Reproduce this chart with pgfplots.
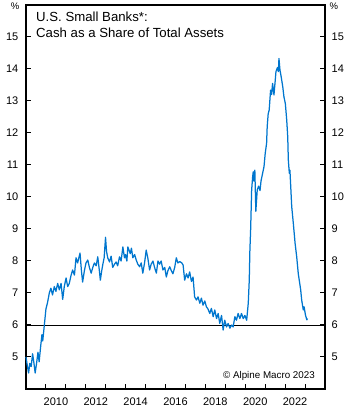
\documentclass[border=0pt]{standalone}
\usepackage{fontspec}
\setmainfont{Liberation Sans}
\usepackage{pgfplots}
\pgfplotsset{compat=1.18}
\definecolor{lineblue}{RGB}{0,118,206}
\pgfplotstableread{
x y
2009.00 5.00
2009.06 4.75
2009.13 4.50
2009.19 4.80
2009.26 4.70
2009.33 5.10
2009.39 4.85
2009.46 4.50
2009.53 4.80
2009.60 5.15
2009.66 4.85
2009.73 5.30
2009.80 5.70
2009.84 5.50
2009.92 6.00
2010.00 6.50
2010.08 6.70
2010.17 7.00
2010.25 7.15
2010.33 6.94
2010.42 7.20
2010.50 7.05
2010.59 7.30
2010.67 7.10
2010.76 7.30
2010.84 6.80
2010.92 7.20
2011.01 7.47
2011.09 7.20
2011.17 7.30
2011.26 7.55
2011.34 7.72
2011.43 7.56
2011.51 8.10
2011.59 7.94
2011.71 8.25
2011.78 7.70
2011.84 7.34
2011.93 7.70
2012.01 7.94
2012.10 8.03
2012.18 7.80
2012.27 7.62
2012.35 7.80
2012.43 7.94
2012.52 7.85
2012.60 8.13
2012.68 7.70
2012.73 7.40
2012.80 7.70
2012.85 7.88
2012.92 8.10
2012.99 8.74
2013.04 8.30
2013.10 8.10
2013.19 7.97
2013.27 8.15
2013.35 7.80
2013.44 7.90
2013.52 7.97
2013.60 7.85
2013.69 8.13
2013.77 8.00
2013.86 8.44
2013.94 8.10
2013.99 8.20
2014.06 8.00
2014.11 8.44
2014.23 8.23
2014.29 8.40
2014.36 8.10
2014.45 8.20
2014.53 8.03
2014.61 7.90
2014.70 7.82
2014.78 7.94
2014.86 7.62
2014.95 7.95
2015.03 8.34
2015.11 8.10
2015.20 7.72
2015.28 7.90
2015.37 8.00
2015.45 7.80
2015.54 7.62
2015.62 8.00
2015.70 7.90
2015.78 8.00
2015.87 7.72
2015.96 7.80
2016.04 7.50
2016.12 7.70
2016.21 7.82
2016.29 7.70
2016.37 7.60
2016.46 7.80
2016.54 8.10
2016.62 7.94
2016.71 7.98
2016.80 7.95
2016.88 7.88
2016.96 7.40
2017.05 7.60
2017.13 7.47
2017.21 7.66
2017.30 7.36
2017.38 7.50
2017.46 6.88
2017.55 6.78
2017.63 6.88
2017.72 6.68
2017.80 6.84
2017.88 6.62
2017.97 6.75
2018.05 6.57
2018.13 6.50
2018.22 6.36
2018.30 6.52
2018.39 6.26
2018.47 6.47
2018.56 6.20
2018.64 6.36
2018.72 6.05
2018.81 6.30
2018.89 5.84
2018.97 6.15
2019.06 5.94
2019.14 6.05
2019.23 5.90
2019.31 6.00
2019.39 5.94
2019.48 6.26
2019.56 6.15
2019.64 6.36
2019.73 6.20
2019.81 6.36
2019.90 6.20
2019.98 6.30
2020.07 6.15
2020.15 6.68
2020.20 7.40
2020.23 8.30
2020.27 9.00
2020.32 10.22
2020.37 10.63
2020.40 10.79
2020.43 10.50
2020.48 10.84
2020.53 9.55
2020.60 10.22
2020.67 10.34
2020.74 10.20
2020.79 10.50
2020.87 10.74
2020.94 10.95
2021.00 11.36
2021.07 11.68
2021.10 12.20
2021.15 12.60
2021.20 12.72
2021.27 13.34
2021.32 13.20
2021.37 13.55
2021.44 13.19
2021.49 13.55
2021.54 13.92
2021.61 14.04
2021.66 13.92
2021.69 14.33
2021.74 13.97
2021.79 13.80
2021.88 13.45
2021.94 13.13
2022.01 12.92
2022.08 12.40
2022.13 11.88
2022.16 11.16
2022.21 10.74
2022.24 10.84
2022.33 9.70
2022.41 9.18
2022.50 8.55
2022.58 8.13
2022.66 7.60
2022.78 7.10
2022.83 6.78
2022.91 6.47
2022.95 6.57
2023.02 6.31
2023.09 6.16
2023.12 6.20
}\cashdata
\begin{document}
\begin{tikzpicture}
\begin{axis}[
  at={(0pt,0pt)}, anchor=south west,
  width=299pt, height=384pt, scale only axis,
  xmin=2009, xmax=2024, ymin=4, ymax=16,
  axis line style={line width=1.1pt},
  tick align=inside,
  xtick pos=bottom, ytick pos=left,
  xtick={2010.5,2012.5,...,2022.5},
  xticklabels={2010,2012,2014,2016,2018,2020,2022},
  major x tick style={draw=none},
  minor xtick={2009,2010,...,2024},
  minor tick length=5pt,
  major tick length=5pt,
  every tick/.append style={black, line width=1pt},
  ytick={5,6,...,15},
  /pgf/number format/assume math mode=true,
  xticklabel style={font=\fontsize{11}{13}\selectfont, inner sep=0pt, anchor=north, yshift=-9pt},
  yticklabel style={font=\fontsize{11}{13}\selectfont, inner sep=0pt, anchor=east, xshift=-7.5pt},
  clip=false,
]
\addplot[black, line width=0.9pt] coordinates {(2009,6) (2024,6)};
\addplot[lineblue, line width=1.25pt, line join=round] table[x=x,y=y] {\cashdata};
\node[anchor=base west, inner sep=0pt, font=\fontsize{13.2}{16}\selectfont] at ([xshift=10pt,yshift=-16.5pt]rel axis cs:0,1) {U.S. Small Banks*:};
\node[anchor=base west, inner sep=0pt, font=\fontsize{13.2}{16}\selectfont] at ([xshift=10pt,yshift=-32.5pt]rel axis cs:0,1) {Cash as a Share of Total Assets};
\node[anchor=base east, inner sep=0pt, font=\fontsize{9.8}{12}\selectfont] at ([xshift=-10pt,yshift=10pt]rel axis cs:1,0) {\textcopyright{} Alpine Macro 2023};
\node[anchor=east, inner sep=0pt, font=\fontsize{9.5}{11}\selectfont] at ([xshift=-6.5pt,yshift=-1.5pt]rel axis cs:0,1) {\%};
\node[anchor=west, inner sep=0pt, font=\fontsize{9.5}{11}\selectfont] at ([xshift=4.3pt,yshift=-1.5pt]rel axis cs:1,1) {\%};
\end{axis}
\begin{axis}[
  at={(0pt,0pt)}, anchor=south west,
  width=299pt, height=384pt, scale only axis,
  xmin=2009, xmax=2024, ymin=4, ymax=16,
  hide x axis,
  axis y line*=right,
  y axis line style={line width=1.1pt, -},
  tick align=inside,
  major tick length=5pt,
  every tick/.append style={black, line width=1pt},
  ytick={5,6,...,15},
  /pgf/number format/assume math mode=true,
  yticklabel style={font=\fontsize{11}{13}\selectfont, inner sep=0pt, anchor=west, xshift=6.5pt},
]
\addplot[draw=none] coordinates {(2010,5)};
\end{axis}
\pgfresetboundingbox
\useasboundingbox (-26pt,-25pt) rectangle (331pt,389pt);
\end{tikzpicture}
\end{document}
